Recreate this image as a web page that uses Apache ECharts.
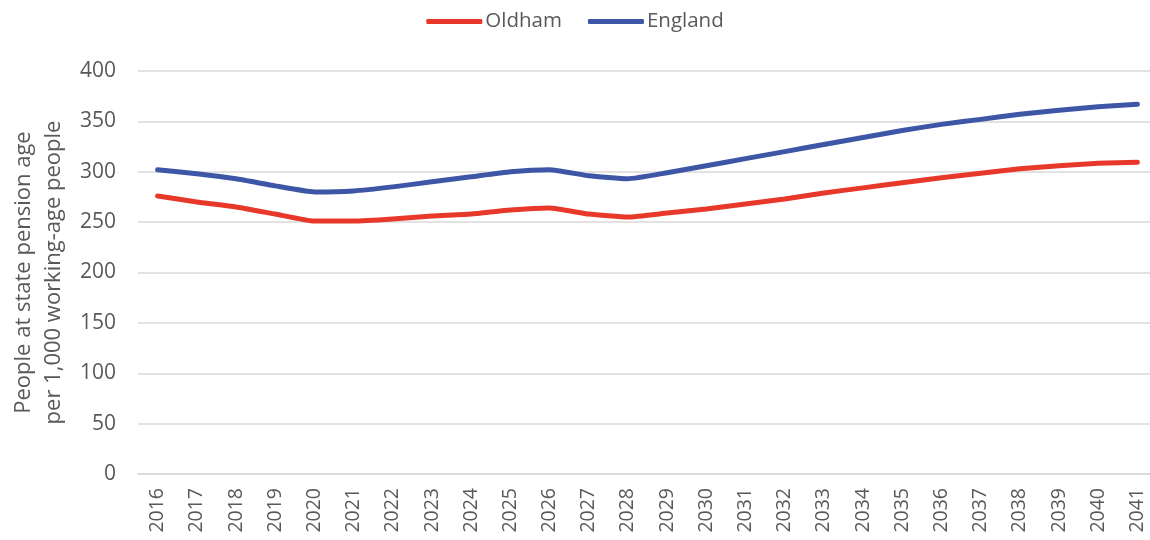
<!DOCTYPE html>
<html>
<head>
<meta charset="utf-8">
<script src="https://cdn.jsdelivr.net/npm/echarts@6/dist/echarts.min.js"></script>
<style>
  html, body { margin: 0; padding: 0; background: #fff; }
  #chart { width: 1150px; height: 540px; }
</style>
</head>
<body>
<div id="chart"></div>
<script>
// years on the x axis
const years = ['2016', '2017', '2018', '2019', '2020', '2021', '2022', '2023', '2024', '2025', '2026', '2027', '2028',
  '2029', '2030', '2031', '2032', '2033', '2034', '2035', '2036', '2037', '2038', '2039', '2040', '2041'];

// people at state pension age per 1,000 working-age people
const oldham = [276, 270, 265, 258, 251, 251, 253, 256, 258, 262, 264, 258, 255,
  259, 263, 268, 273, 279, 284, 289, 294, 298.5, 303, 306, 308.5, 309.5];
const england = [302, 298, 293, 286, 280, 281, 285, 290, 295, 300, 302, 296, 293,
  299, 306, 313, 320, 327, 334, 341, 347, 352, 357, 361, 364.5, 367];

const textColor = '#595959';
const font = '"Open Sans", "Noto Sans", sans-serif';

const chart = echarts.init(document.getElementById('chart'));
chart.setOption({
  animation: false,
  textStyle: { fontFamily: font },
  legend: {
    top: 6,
    left: 'center',
    itemWidth: 56,
    itemHeight: 5,
    itemGap: 26,
    icon: 'roundRect',
    textStyle: { fontSize: 20.5, color: textColor, fontFamily: font, padding: [0, 0, 0, -2] },
    data: ['Oldham', 'England']
  },
  grid: {
    left: 138,
    right: -7,
    top: 71,
    bottom: 66,
    outerBoundsMode: 'none'
  },
  xAxis: {
    type: 'category',
    data: years,
    boundaryGap: true,
    axisLine: { lineStyle: { color: '#d9d9d9', width: 1.5 } },
    axisTick: { show: false },
    axisLabel: { rotate: 90, fontSize: 19.5, color: textColor, margin: 14, fontFamily: font }
  },
  yAxis: {
    type: 'value',
    min: 0,
    max: 400,
    interval: 50,
    name: 'People at state pension age\nper 1,000 working-age people',
    nameLocation: 'middle',
    nameRotate: 90,
    nameGap: 66,
    nameTextStyle: { fontSize: 22, color: textColor, lineHeight: 30, fontFamily: font },
    axisLine: { show: false },
    axisTick: { show: false },
    splitLine: { lineStyle: { color: '#d9d9d9', width: 1.5 } },
    axisLabel: { fontSize: 21, color: textColor, margin: 22, fontFamily: font }
  },
  series: [
    {
      name: 'Oldham',
      type: 'line',
      data: oldham,
      symbol: 'none',
      smooth: 0.15,
      color: '#e8382a',
      lineStyle: { width: 5, cap: 'round', join: 'round' }
    },
    {
      name: 'England',
      type: 'line',
      data: england,
      symbol: 'none',
      smooth: 0.15,
      color: '#3d56a6',
      lineStyle: { width: 5, cap: 'round', join: 'round' }
    }
  ]
});
</script>
</body>
</html>
